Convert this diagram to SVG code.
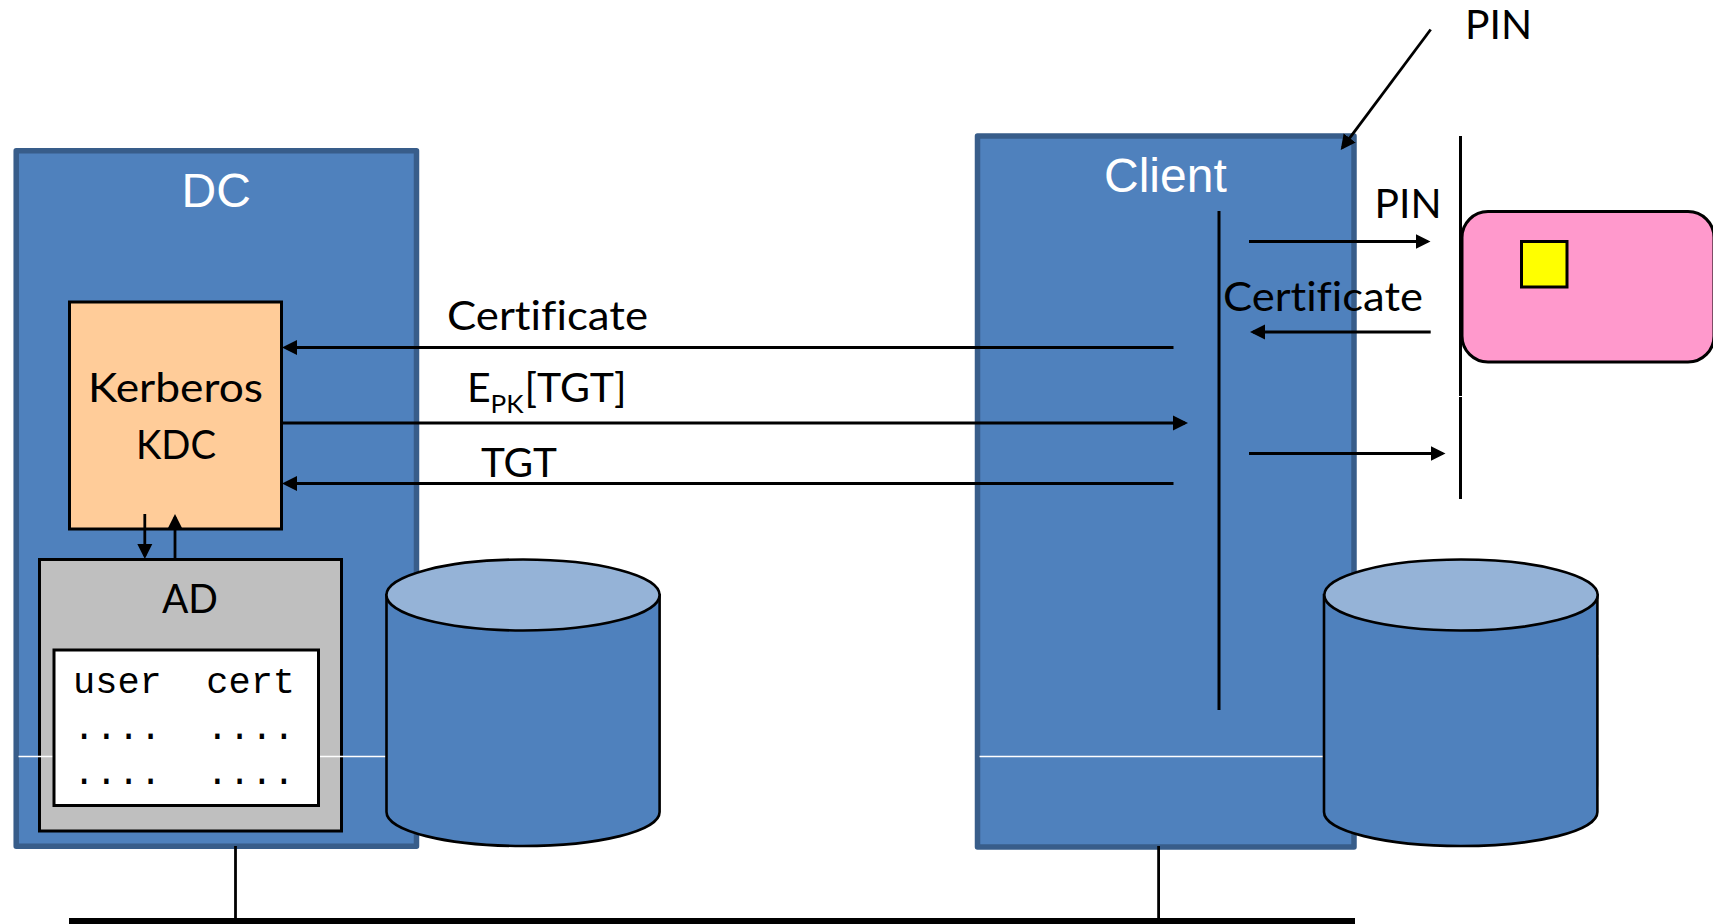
<svg xmlns="http://www.w3.org/2000/svg" width="1713" height="924" viewBox="0 0 1713 924">
<style>
text{font-family:"Lato","Open Sans",sans-serif;font-size:41px;fill:#000;font-variant-ligatures:none}
.title{font-family:"Liberation Sans",Arial,sans-serif;font-size:48px;fill:#fff}
.mono{font-family:"Liberation Mono","Courier New",monospace;font-size:37px;white-space:pre}
.sub{font-size:25px}
.host{fill:#4f81bd;stroke:#385d8a;stroke-width:5.5;stroke-linejoin:round}
.box{stroke:#000;stroke-width:3}
.wl{stroke:#fff;stroke-width:1.5;fill:none}
.ln{stroke:#000;stroke-width:2.8;fill:none}
.v{stroke:#000;stroke-width:3;fill:none}
.arr{marker-end:url(#ah)}
.cyl{fill:#4f81bd;stroke:#000;stroke-width:2.6}
.cyltop{fill:#95b3d7;stroke:#000;stroke-width:2.6}
</style>
<defs>
<marker id="ah" markerUnits="userSpaceOnUse" markerWidth="16" markerHeight="16" refX="12" refY="8" orient="auto">
<polygon points="0,0.5 15,8 0,15.5" fill="#000"/>
</marker>
</defs>
<g id="dc">
<rect class="host" x="16.2" y="150.7" width="400.3" height="695.6"/>
<text class="title" x="181.5" y="206.5">DC</text>
</g>
<g id="kdc">
<rect class="box" x="69.5" y="302" width="212" height="227" fill="#ffcc99"/>
<text x="88" y="402" textLength="175" lengthAdjust="spacingAndGlyphs">Kerberos</text>
<text x="136" y="459" textLength="80" lengthAdjust="spacingAndGlyphs">KDC</text>
</g>
<g id="ad">
<rect class="box" x="39.5" y="559.5" width="302" height="271.5" fill="#bfbfbf"/>
<text x="162" y="613" textLength="56" lengthAdjust="spacingAndGlyphs">AD</text>
<path class="wl" d="M18.5 756.5H386.5"/>
<rect class="box" x="54" y="650" width="264.5" height="155.5" fill="#fff"/>
<text class="mono" x="73" y="692.5">user  cert</text>
<text class="mono" x="73" y="739">....  ....</text>
<text class="mono" x="73" y="784">....  ....</text>
</g>
<g id="dc-disk">
<path class="cyl" d="M386.5 595V812C386.5 831 447 846 523 846S659.6 831 659.6 812V595Z"/>
<ellipse class="cyltop" cx="523" cy="595" rx="136.6" ry="35.5"/>
</g>
<g id="client">
<rect class="host" x="977.5" y="136" width="376.5" height="711"/>
<text class="title" x="1104" y="192">Client</text>
<path class="wl" d="M979.5 756.5H1324"/>
</g>
<g id="client-disk">
<path class="cyl" d="M1324 595V812C1324 831 1385 846 1461 846S1597.4 831 1597.4 812V595Z"/>
<ellipse class="cyltop" cx="1461" cy="595" rx="136.7" ry="35.5"/>
<path d="M1599.4 655C1600.4 690 1600.4 740 1599.4 790" stroke="#fff" stroke-width="1" fill="none"/>
</g>
<g id="smartcard">
<rect class="box" x="1462" y="211.5" width="252" height="150.5" rx="26" fill="#ff99cc"/>
<rect class="box" x="1521.5" y="241.5" width="45.5" height="45.5" fill="#ffff00"/>
</g>
<g id="connectors">
<path class="ln" d="M235.5 846V918"/>
<path class="ln" d="M1158.6 846V918"/>
<path d="M69 921H1355" stroke="#000" stroke-width="6" fill="none"/>
<path class="v" d="M1219 211V710"/>
<path class="v" d="M1460.5 136V396"/>
<path class="v" d="M1460.5 397V499"/>
<path class="ln arr" d="M1173.5 347.5H285"/>
<path class="ln arr" d="M282 423H1185"/>
<path class="ln arr" d="M1173.5 483.5H285"/>
<path class="ln arr" d="M1249 241.5H1427.5"/>
<path class="ln arr" d="M1430.7 332H1253"/>
<path class="ln arr" d="M1249 453.5H1442.5"/>
<path class="ln arr" d="M1430.7 29.5L1342.5 147.6"/>
<path class="ln arr" d="M144.8 514V556"/>
<path class="ln arr" d="M175 559V517"/>
</g>
<g id="labels">
<text x="1465" y="38.5" textLength="67" lengthAdjust="spacingAndGlyphs">PIN</text>
<text x="1374.5" y="218" textLength="67" lengthAdjust="spacingAndGlyphs">PIN</text>
<text x="1223" y="310.5" textLength="200" lengthAdjust="spacingAndGlyphs">Certificate</text>
<text x="447" y="329.5" textLength="201" lengthAdjust="spacingAndGlyphs">Certificate</text>
<text x="467" y="401.5">E</text>
<text class="sub" x="490.5" y="412.5" textLength="33" lengthAdjust="spacingAndGlyphs">PK</text>
<text x="524.5" y="401.5" textLength="102" lengthAdjust="spacingAndGlyphs">[TGT]</text>
<text x="481" y="477" textLength="76" lengthAdjust="spacingAndGlyphs">TGT</text>
</g>
</svg>
